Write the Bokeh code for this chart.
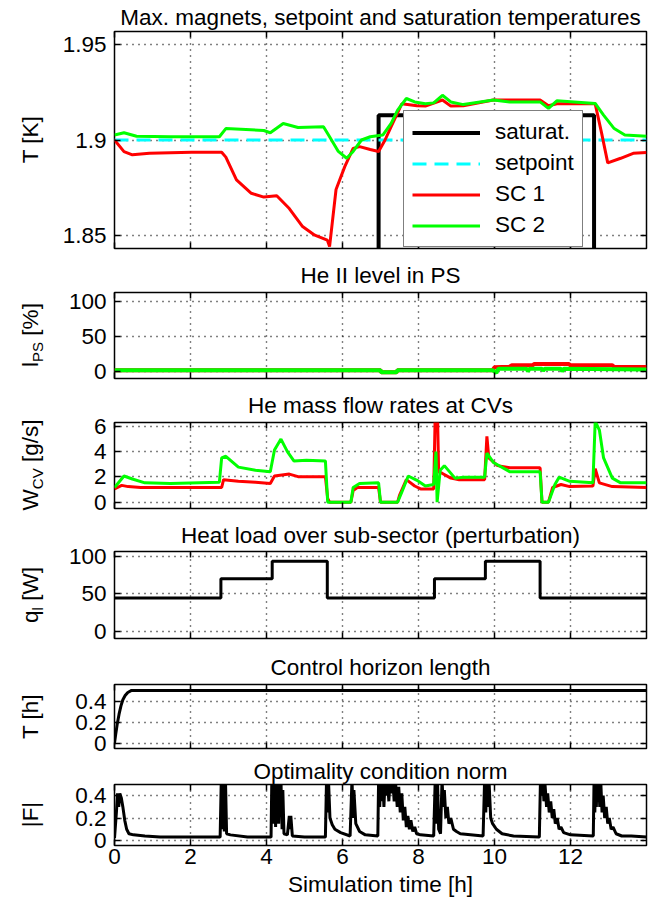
import math
from bokeh.plotting import figure
from bokeh.layouts import column, row
from bokeh.models import Range1d, FixedTicker, LinearAxis, Label, Legend, LegendItem
from bokeh.embed import file_html
from bokeh.resources import INLINE

FONT = "Liberation Sans"
FS = "22.5px"
SUB = "15px"

# ---------------- data ----------------
x_ticks = [0, 2, 4, 6, 8, 10, 12]
x_tick_labels = ["0", "2", "4", "6", "8", "10", "12"]

titles = ["Max. magnets, setpoint and saturation temperatures",
          "He II level in PS",
          "He mass flow rates at CVs",
          "Heat load over sub-sector (perturbation)",
          "Control horizon length",
          "Optimality condition norm"]

# panel 1: temperatures [K]
T_ticks = [1.85, 1.9, 1.95]
T_tick_labels = ["1.85", "1.9", "1.95"]
sat_time = [0.0, 6.95, 6.95, 12.62, 12.62, 14.0]
sat_temp = [1.80, 1.80, 1.913, 1.913, 1.80, 1.80]
setpoint_time = [0.0, 14.0]
setpoint_temp = [1.9, 1.9]
sc1_time = [0.0, 0.25, 0.47, 0.92, 2.03, 2.82, 2.93, 3.21, 3.6, 3.93,
            4.27, 4.6, 4.94, 5.27, 5.6, 5.66, 5.83, 6.06, 6.28, 6.45,
            6.73, 6.95, 7.12, 7.28, 7.56, 7.96, 8.18, 8.63, 8.85, 9.18,
            9.97, 11.2, 11.42, 11.64, 12.65, 12.82, 12.98, 13.32, 13.65, 14.0]
sc1_temp = [1.9, 1.8939, 1.8922, 1.893, 1.8936, 1.8936, 1.891, 1.879, 1.872, 1.870,
            1.8707, 1.864, 1.8547, 1.85, 1.8474, 1.844, 1.874, 1.886, 1.8956, 1.8965,
            1.895, 1.894, 1.9, 1.907, 1.919, 1.918, 1.9178, 1.921, 1.9178, 1.918,
            1.921, 1.921, 1.918, 1.919, 1.919, 1.9035, 1.888, 1.8904, 1.893, 1.8934]
sc2_time = [0.0, 0.25, 0.58, 1.47, 2.76, 2.93, 3.93, 4.1, 4.44, 4.83,
            5.5, 5.66, 5.89, 6.11, 6.28, 6.5, 6.73, 7.06, 7.28, 7.45,
            7.68, 7.9, 8.18, 8.4, 8.63, 8.85, 9.18, 9.97, 10.4, 11.2,
            11.42, 11.64, 12.65, 12.87, 13.15, 13.43, 14.0]
sc2_temp = [1.9026, 1.9038, 1.902, 1.9017, 1.9017, 1.906, 1.905, 1.9038, 1.9087, 1.9066,
            1.907, 1.9017, 1.894, 1.8904, 1.894, 1.9, 1.9017, 1.9026, 1.9087, 1.9157,
            1.9218, 1.92, 1.919, 1.9195, 1.9235, 1.92, 1.9186, 1.921, 1.92, 1.92,
            1.9166, 1.9206, 1.9192, 1.9131, 1.906, 1.9026, 1.902]

# panel 2: He II level in PS [%]
lps_ticks = [0, 50, 100]
lps_tick_labels = ["0", "50", "100"]
lps1_time = [0.0, 7.0, 7.02, 7.42, 7.45, 9.95, 10.0, 10.4, 10.45, 11.0,
             11.05, 11.95, 12.0, 13.1, 13.15, 14.0]
lps1_val = [2, 2, -1, -1, 2, 2, 6, 7, 9, 9,
            11, 11, 9, 9, 6.5, 6.5]
lps2_time = [0.0, 7.0, 7.02, 7.42, 7.45, 9.95, 10.05, 10.1, 10.2, 10.85,
             10.88, 10.92, 11.25, 11.28, 11.32, 11.75, 11.78, 11.82, 14.0]
lps2_val = [2, 2, -1, -1, 2, 2, -2, 4, 4, 4,
            0, 4, 4, 1, 4, 4, 0, 4, 3]

# panel 3: mass flow rates [g/s]
w_ticks = [0, 2, 4, 6]
w_tick_labels = ["0", "2", "4", "6"]
w1_time = [0.0, 0.19, 0.36, 0.69, 2.82, 2.87, 3.26, 3.71, 4.1, 4.21,
           4.6, 4.83, 5.55, 5.61, 5.66, 6.22, 6.28, 6.39, 6.95, 7.0,
           7.45, 7.5, 7.68, 7.9, 8.07, 8.4, 8.44, 8.5, 8.53, 8.63,
           8.85, 9.07, 9.74, 9.8, 9.85, 10.08, 10.41, 11.2, 11.25, 11.42,
           11.53, 11.75, 11.98, 12.59, 12.65, 12.76, 13.1, 14.0]
w1_val = [1.04, 1.33, 1.23, 1.16, 1.16, 1.78, 1.65, 1.58, 1.48, 2.07,
          2.22, 2.02, 2.02, 0.3, 0.0, 0.0, 0.91, 1.16, 1.16, 0.0,
          0.0, 0.54, 1.78, 1.28, 1.04, 1.04, 7.0, 7.0, 2.4, 2.27,
          1.9, 1.78, 1.78, 5.2, 3.5, 2.89, 2.72, 2.72, 0.0, 0.0,
          1.16, 1.4, 1.23, 1.28, 2.64, 1.53, 1.23, 1.16]
w2_time = [0.0, 0.25, 0.47, 0.8, 1.47, 2.76, 2.82, 2.93, 3.26, 3.71,
           4.1, 4.21, 4.38, 4.55, 4.72, 5.05, 5.55, 5.61, 6.22, 6.28,
           6.45, 6.95, 7.0, 7.45, 7.56, 7.73, 7.96, 8.18, 8.4, 8.46,
           8.49, 8.57, 8.68, 8.96, 9.18, 9.74, 9.8, 9.97, 10.41, 11.2,
           11.25, 11.42, 11.59, 11.7, 11.98, 12.59, 12.65, 12.76, 12.87, 13.1,
           13.32, 14.0]
w2_val = [1.16, 2.07, 1.83, 1.53, 1.48, 1.58, 3.5, 3.63, 2.77, 2.52,
          2.4, 4.12, 4.99, 4.0, 3.26, 3.31, 3.26, 0.0, 0.0, 1.16,
          1.48, 1.53, 0.0, 0.0, 0.79, 2.07, 1.73, 1.28, 1.4, 4.0,
          0.0, 2.52, 2.89, 1.9, 1.98, 1.98, 3.88, 3.14, 2.4, 2.4,
          0.0, 0.0, 1.4, 1.98, 1.65, 1.53, 6.4, 5.7, 3.5, 1.9,
          1.53, 1.53]

# panel 4: heat load [W]
q_ticks = [0, 50, 100]
q_tick_labels = ["0", "50", "100"]
q_time = [0.0, 2.8, 2.8, 4.15, 4.15, 5.6, 5.6, 8.42, 8.42, 9.76, 9.76, 11.2, 11.2, 14.0]
q_val = [44.5, 44.5, 70.5, 70.5, 94, 94, 44.5, 44.5, 70.5, 70.5, 94, 94, 44.5, 44.5]

# panel 5: control horizon [h]
h_ticks = [0, 0.2, 0.4]
h_tick_labels = ["0", "0.2", "0.4"]
h_time = [0.0, 0.03, 0.07, 0.12, 0.17, 0.22, 0.28, 0.35, 0.45, 14.0]
h_val = [0.0, 0.08, 0.18, 0.28, 0.36, 0.42, 0.46, 0.49, 0.51, 0.51]

# panel 6: optimality condition norm |F|  (time [h], value)
f_ticks = [0, 0.2, 0.4]
f_tick_labels = ["0", "0.2", "0.4"]
f_points = [
    (0.00, 0.02), (0.05, 0.25), (0.08, 0.42), (0.11, 0.30), (0.14, 0.42), (0.18, 0.38),
    (0.22, 0.30), (0.27, 0.18), (0.32, 0.10), (0.38, 0.06), (0.50, 0.05), (0.80, 0.04),
    (1.20, 0.03), (2.00, 0.03), (2.78, 0.03),
    (2.81, 0.55), (2.84, 0.10), (2.86, 0.55), (2.89, 0.08), (2.92, 0.55), (2.95, 0.06),
    (3.05, 0.05), (3.50, 0.03), (4.12, 0.03),
    (4.14, 0.55), (4.16, 0.15), (4.18, 0.55), (4.20, 0.20), (4.22, 0.55), (4.24, 0.12),
    (4.26, 0.55), (4.28, 0.25), (4.30, 0.55), (4.32, 0.15), (4.34, 0.55), (4.36, 0.30),
    (4.38, 0.55), (4.41, 0.10), (4.43, 0.45), (4.46, 0.06), (4.55, 0.05),
    (4.60, 0.22), (4.62, 0.10), (4.64, 0.22), (4.68, 0.04), (5.00, 0.03), (5.55, 0.03),
    (5.58, 0.55), (5.61, 0.25), (5.63, 0.55), (5.67, 0.20), (5.73, 0.14), (5.80, 0.10),
    (5.95, 0.07), (6.20, 0.04),
    (6.25, 0.55), (6.28, 0.20), (6.30, 0.45), (6.35, 0.15), (6.45, 0.08), (6.60, 0.05),
    (6.93, 0.04),
    (6.95, 0.55), (6.98, 0.30), (7.00, 0.55), (7.03, 0.35), (7.06, 0.55), (7.09, 0.30),
    (7.12, 0.55), (7.15, 0.40), (7.18, 0.55), (7.22, 0.35), (7.25, 0.55), (7.28, 0.42),
    (7.32, 0.55), (7.36, 0.35), (7.40, 0.50), (7.44, 0.30), (7.48, 0.48), (7.52, 0.25),
    (7.56, 0.42), (7.60, 0.18), (7.64, 0.30), (7.68, 0.12), (7.72, 0.22), (7.76, 0.10),
    (7.80, 0.18), (7.85, 0.08), (7.90, 0.12), (7.95, 0.06), (8.05, 0.05), (8.40, 0.04),
    (8.44, 0.55), (8.47, 0.15), (8.50, 0.55), (8.53, 0.10), (8.58, 0.06), (8.62, 0.55),
    (8.65, 0.30), (8.68, 0.45), (8.72, 0.20), (8.76, 0.30), (8.80, 0.15), (8.85, 0.20),
    (8.92, 0.10), (9.00, 0.08), (9.10, 0.06), (9.70, 0.04),
    (9.74, 0.55), (9.77, 0.25), (9.80, 0.55), (9.83, 0.30), (9.86, 0.50), (9.90, 0.20),
    (9.95, 0.15), (10.05, 0.10), (10.20, 0.06), (10.50, 0.04), (11.18, 0.03),
    (11.21, 0.55), (11.24, 0.40), (11.27, 0.55), (11.30, 0.35), (11.33, 0.50), (11.37, 0.30),
    (11.40, 0.42), (11.44, 0.25), (11.48, 0.35), (11.52, 0.20), (11.56, 0.28), (11.60, 0.15),
    (11.65, 0.20), (11.70, 0.10), (11.75, 0.12), (11.82, 0.07), (12.00, 0.05), (12.60, 0.04),
    (12.62, 0.55), (12.64, 0.25), (12.66, 0.55), (12.68, 0.30), (12.70, 0.55), (12.72, 0.35),
    (12.74, 0.55), (12.77, 0.30), (12.80, 0.50), (12.83, 0.25), (12.86, 0.40), (12.90, 0.20),
    (12.94, 0.30), (12.98, 0.15), (13.02, 0.20), (13.07, 0.10), (13.12, 0.12), (13.20, 0.06),
    (13.35, 0.04), (13.60, 0.04), (14.00, 0.03),
]
f_time = [t for t, _ in f_points]
f_val = [v for _, v in f_points]

# ---------------- layout ----------------
PAGE_W, PAGE_H = 665, 908
GUTTER_W = 58                 # column holding the rotated y labels
COL_W = PAGE_W - GUTTER_W     # 607
BL = 56                       # frame starts at page x 114
FW = 532                      # frame width
BR = COL_W - BL - FW
XR = (0, 14)
YLAB_X = 30                   # page x of y-label centre

# (figure height, border top, border bottom, title standoff)
panels = [(256, 30, 8, 4), (130, 35, 8, 9), (130, 35, 8, 9),
          (130, 35, 8, 8), (110, 38, 8, 9), (152, 27, 63, 1)]


def make_panel(h, top, bottom, standoff, yr, yt, ytl, title, show_x=False):
    p = figure(width=COL_W, height=h, x_range=Range1d(*XR), y_range=Range1d(*yr),
               output_backend="svg", toolbar_location=None,
               min_border_left=BL, min_border_right=BR,
               min_border_top=top, min_border_bottom=bottom)
    p.background_fill_color = "white"
    p.border_fill_color = "white"
    p.outline_line_color = "black"
    p.outline_line_width = 1.5
    p.title.text = title
    p.title.align = "center"
    p.title.text_font = FONT
    p.title.text_font_size = FS
    p.title.text_font_style = "normal"
    p.title.text_color = "black"
    p.title.standoff = standoff
    xb = p.xaxis[0]
    yl = p.yaxis[0]
    xb.ticker = FixedTicker(ticks=x_ticks)
    yl.ticker = FixedTicker(ticks=yt)
    yl.major_label_overrides = dict(zip(yt, ytl))
    if show_x:
        xb.major_label_overrides = dict(zip(x_ticks, x_tick_labels))
    else:
        xb.major_label_overrides = {t: "" for t in x_ticks}
    for ax in (xb, yl):
        ax.axis_line_color = None
        ax.major_tick_in = 6
        ax.major_tick_out = 0
        ax.major_tick_line_color = "black"
        ax.major_tick_line_width = 1.5
        ax.minor_tick_line_color = None
        ax.major_label_text_font = FONT
        ax.major_label_text_font_size = FS
        ax.major_label_text_color = "black"
    yl.major_label_standoff = 8
    if show_x:
        xb.major_label_standoff = 3
    else:
        xb.major_label_text_font_size = "1px"
        xb.major_label_standoff = 0
    p.grid.grid_line_color = "black"
    p.grid.grid_line_dash = "1 5"
    p.grid.grid_line_width = 1.4
    for loc, ticks in (("above", x_ticks), ("right", yt)):
        ax = LinearAxis(ticker=FixedTicker(ticks=ticks), axis_line_color=None,
                        major_tick_in=6, major_tick_out=0, major_tick_line_width=1.5,
                        major_tick_line_color="black", minor_tick_line_color=None,
                        major_label_overrides={t: "" for t in ticks},
                        major_label_text_font_size="1px", major_label_standoff=0)
        p.add_layout(ax, loc)
    return p, xb


# page y of each frame centre (for the y labels)
frame_centres = []
y_cursor = 0
for ph, bt, bb, _ in panels:
    frame_centres.append(y_cursor + bt + (ph - bt - bb) / 2)
    y_cursor += ph

gutter = figure(width=GUTTER_W, height=PAGE_H, x_range=Range1d(0, GUTTER_W),
                y_range=Range1d(0, PAGE_H), output_backend="svg", toolbar_location=None,
                x_axis_location=None, y_axis_location=None,
                min_border_left=0, min_border_right=0, min_border_top=0, min_border_bottom=0)
gutter.outline_line_color = None
gutter.grid.visible = False
gutter.background_fill_color = "white"
gutter.border_fill_color = "white"


def ylabel_simple(i, text):
    gutter.add_layout(Label(x=YLAB_X, y=PAGE_H - frame_centres[i], text=text, angle=math.pi / 2,
                            text_align="center", text_baseline="middle", text_font=FONT,
                            text_font_size=FS, text_color="black"))


def ylabel_sub(i, main, sub, rest, w_main, w_sub, w_space, w_rest):
    yc = PAGE_H - frame_centres[i]
    start = yc - (w_main + w_sub + w_space + w_rest) / 2
    pieces = [(main, FS, start, YLAB_X),
              (sub, SUB, start + w_main, YLAB_X + 7),
              (rest, FS, start + w_main + w_sub + w_space, YLAB_X)]
    for txt, fs, yy, xx in pieces:
        gutter.add_layout(Label(x=xx, y=yy, text=txt, angle=math.pi / 2,
                                text_align="left", text_baseline="middle",
                                text_font=FONT, text_font_size=fs, text_color="black"))


em = 22.5
es = 15.0
space = 0.278 * em

# panel 1
yr1 = (1.843, 1.957)
p1, _ = make_panel(*panels[0], yr1, T_ticks, T_tick_labels, titles[0])
r_sat = p1.line(sat_time, sat_temp, line_color="black", line_width=4)
r_set = p1.line(setpoint_time, setpoint_temp, line_color="#00ffff", line_width=3, line_dash="14 8")
r_sc1 = p1.line(sc1_time, sc1_temp, line_color="#ff0000", line_width=3)
r_sc2 = p1.line(sc2_time, sc2_temp, line_color="#00ff00", line_width=3)
ylabel_simple(0, "T [K]")
legend = Legend(items=[LegendItem(label="saturat.", renderers=[r_sat]),
                       LegendItem(label="setpoint", renderers=[r_set]),
                       LegendItem(label="SC 1", renderers=[r_sc1]),
                       LegendItem(label="SC 2", renderers=[r_sc2])],
                location=(289, 1), margin=0, padding=8, spacing=5,
                glyph_width=68, glyph_height=25, label_height=25, label_standoff=15,
                label_text_font=FONT, label_text_font_size=FS, label_text_color="black",
                background_fill_color="white", background_fill_alpha=1.0,
                border_line_color="black", border_line_width=1.5)
p1.add_layout(legend)

# panel 2
yr2 = (-10, 113.6)
p2, _ = make_panel(*panels[1], yr2, lps_ticks, lps_tick_labels, titles[1])
p2.line(lps1_time, lps1_val, line_color="#ff0000", line_width=4)
p2.line(lps2_time, lps2_val, line_color="#00ff00", line_width=4)
ylabel_sub(1, "l", "PS", "[%]", 0.222 * em, 1.334 * es, space, 1.445 * em)

# panel 3
yr3 = (-0.5, 6.3)
p3, _ = make_panel(*panels[2], yr3, w_ticks, w_tick_labels, titles[2])
p3.line(w1_time, w1_val, line_color="#ff0000", line_width=3)
p3.line(w2_time, w2_val, line_color="#00ff00", line_width=3)
ylabel_sub(2, "W", "CV", "[g/s]", 0.944 * em, 1.389 * es, space, 1.89 * em)

# panel 4
yr4 = (-10, 107)
p4, _ = make_panel(*panels[3], yr4, q_ticks, q_tick_labels, titles[3])
p4.line(q_time, q_val, line_color="black", line_width=3)
ylabel_sub(3, "q", "l", "[W]", 0.556 * em, 0.222 * es, space, 1.5 * em)

# panel 5
yr5 = (-0.052, 0.567)
p5, _ = make_panel(*panels[4], yr5, h_ticks, h_tick_labels, titles[4])
p5.line(h_time, h_val, line_color="black", line_width=3)
ylabel_simple(4, "T [h]")

# panel 6
yr6 = (-0.045, 0.5)
p6, xb6 = make_panel(*panels[5], yr6, f_ticks, f_tick_labels, titles[5], show_x=True)
p6.line(f_time, f_val, line_color="black", line_width=3)
ylabel_simple(5, "|F|")
xb6.axis_label = "Simulation time [h]"
xb6.axis_label_text_font = FONT
xb6.axis_label_text_font_size = FS
xb6.axis_label_text_font_style = "normal"
xb6.axis_label_text_color = "black"
xb6.axis_label_standoff = 5

layout = row(gutter, column(p1, p2, p3, p4, p5, p6, spacing=0), spacing=0)
open("out.html", "w").write(file_html(layout, INLINE))
